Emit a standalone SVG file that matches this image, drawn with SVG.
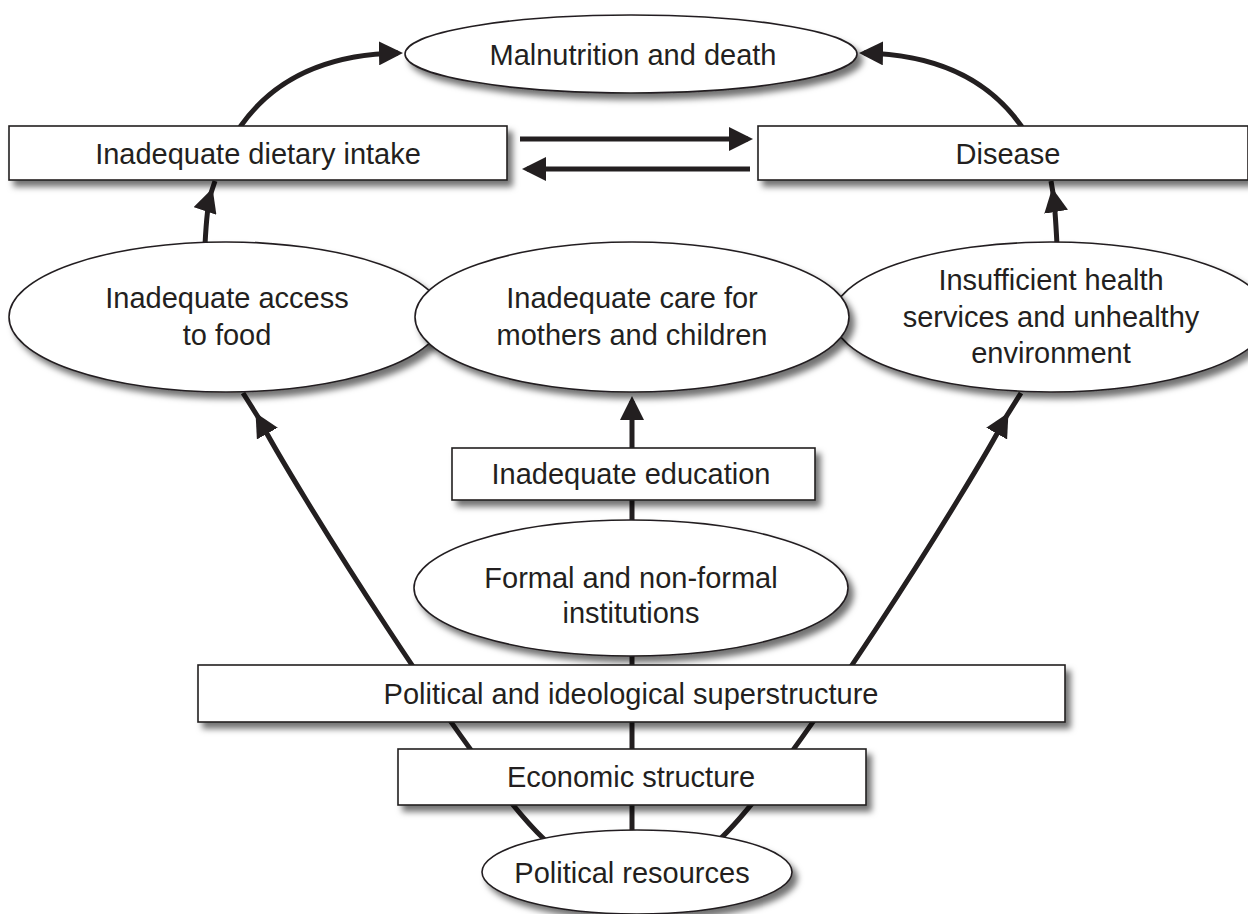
<svg xmlns="http://www.w3.org/2000/svg" width="1248" height="914" viewBox="0 0 1248 914">
<defs>
<filter id="sh" x="-10%" y="-20%" width="125%" height="160%">
<feDropShadow dx="5" dy="6" stdDeviation="3" flood-color="#000" flood-opacity="0.55"/>
</filter>
<marker id="ah" markerUnits="userSpaceOnUse" viewBox="0 0 24 24" markerWidth="24" markerHeight="24" refX="19" refY="12" orient="auto">
<path d="M0,0 L24,12 L0,24 Z" fill="#231f20"/>
</marker>
</defs>
<style>
.node rect, .node ellipse { fill: #fff; stroke: #231f20; stroke-width: 1.6; filter: url(#sh); }
.node text { font-family: "Liberation Sans", Arial, sans-serif; font-size: 29px; fill: #231f20; text-anchor: middle; }
.conn path { fill: none; stroke: #231f20; stroke-width: 5; }
</style>
<rect width="1248" height="914" fill="#fff"/>
<g id="connectors" class="conn">
<path d="M545,840 C475,775 290,480 258,417 L243,393" marker-mid="url(#ah)"/>
<path d="M719,840 C789,775 974,480 1006,417 L1021,393" marker-mid="url(#ah)"/>
<path d="M632,832 L632,401" marker-end="url(#ah)"/>
<path d="M205,245 C206,225 207,205 211,193 L215,181" marker-mid="url(#ah)"/>
<path d="M1057,245 C1056,225 1055,205 1053,193 L1051,181" marker-mid="url(#ah)"/>
<path d="M240,127 Q290,55 398,53" marker-end="url(#ah)"/>
<path d="M1022,127 Q972,55 864,53" marker-end="url(#ah)"/>
<path d="M520,139 L748,139" marker-end="url(#ah)"/>
<path d="M750,169 L527,169" marker-end="url(#ah)"/>
</g>
<g id="n-malnutrition" class="node">
<ellipse cx="631" cy="54" rx="226" ry="39"/>
<text x="633" y="65">Malnutrition and death</text>
</g>
<g id="n-dietary" class="node">
<rect x="9" y="126" width="498" height="54"/>
<text x="258" y="164">Inadequate dietary intake</text>
</g>
<g id="n-disease" class="node">
<rect x="758" y="126" width="490" height="54"/>
<text x="1008" y="164">Disease</text>
</g>
<g id="n-access" class="node">
<ellipse cx="226" cy="317" rx="217" ry="75"/>
<text x="227" y="308">Inadequate access</text>
<text x="227" y="345">to food</text>
</g>
<g id="n-health" class="node">
<ellipse cx="1051" cy="317" rx="218" ry="75"/>
<text x="1051" y="290">Insufficient health</text>
<text x="1051" y="327">services and unhealthy</text>
<text x="1051" y="363">environment</text>
</g>
<g id="n-care" class="node">
<ellipse cx="632" cy="317" rx="217" ry="75"/>
<text x="632" y="308">Inadequate care for</text>
<text x="632" y="345">mothers and children</text>
</g>
<g id="n-education" class="node">
<rect x="452" y="448" width="363" height="52"/>
<text x="631" y="484">Inadequate education</text>
</g>
<g id="n-formal" class="node">
<ellipse cx="631" cy="588" rx="217" ry="68"/>
<text x="631" y="588">Formal and non-formal</text>
<text x="631" y="623">institutions</text>
</g>
<g id="n-political" class="node">
<rect x="198" y="665" width="867" height="57"/>
<text x="631" y="704">Political and ideological superstructure</text>
</g>
<g id="n-economic" class="node">
<rect x="398" y="749" width="468" height="56"/>
<text x="631" y="787">Economic structure</text>
</g>
<g id="n-resources" class="node">
<ellipse cx="637" cy="872" rx="155" ry="42"/>
<text x="632" y="883">Political resources</text>
</g>
</svg>
